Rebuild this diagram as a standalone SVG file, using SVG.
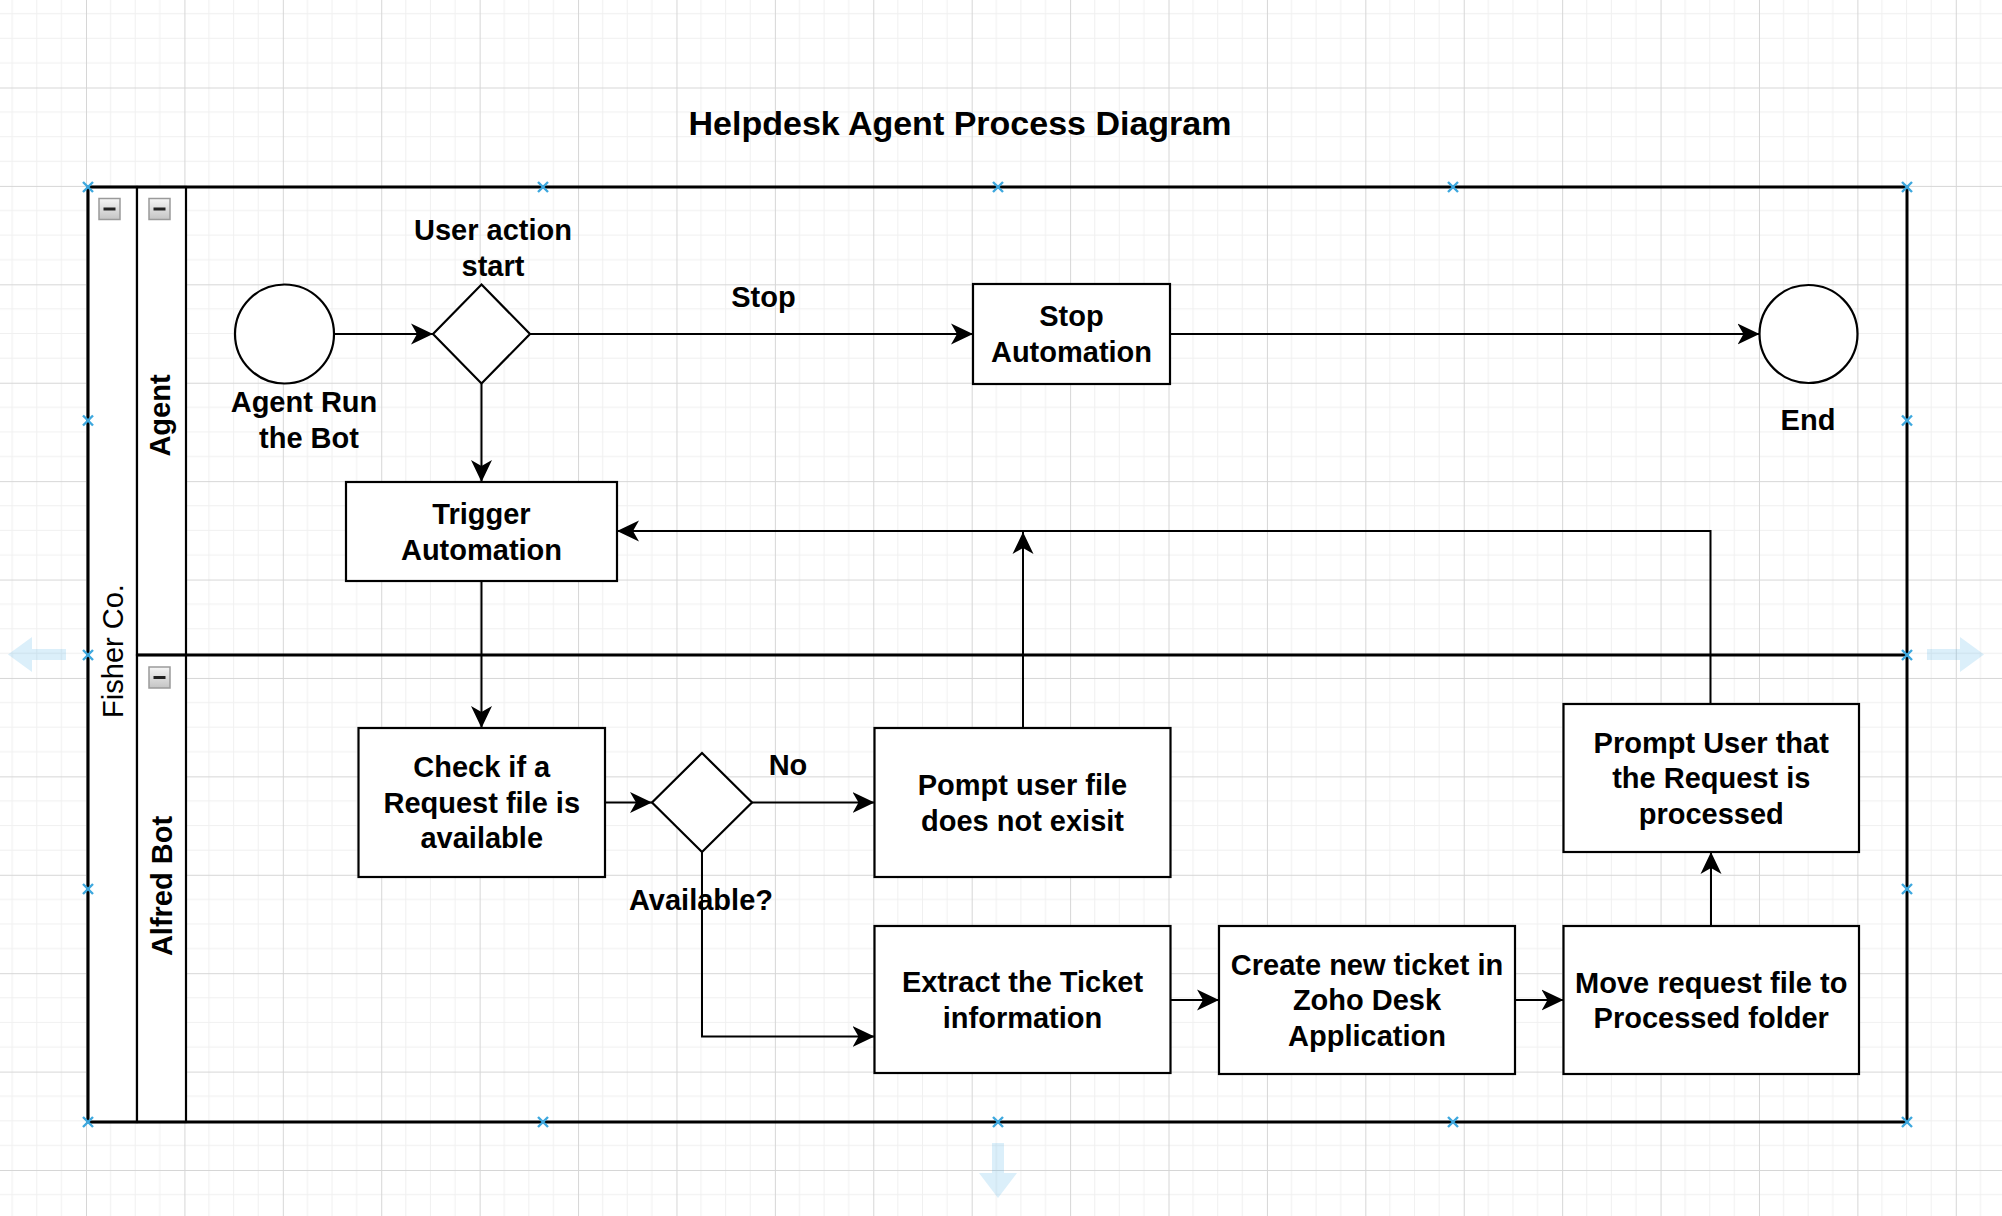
<svg xmlns="http://www.w3.org/2000/svg" width="2002" height="1216" viewBox="0 0 2002 1216">
  <style>
    .t { font-family: "Liberation Sans", Arial, Helvetica, sans-serif; font-weight: bold; font-size: 29px; fill: #000; text-anchor: middle; }
    .reg { font-weight: normal; }
    .title { font-size: 34px; }
    .box { fill: #fff; stroke: #000; stroke-width: 2.2; }
    .hdr { fill: #fff; stroke: #000; stroke-width: 2.2; }
    .edge { fill: none; stroke: #000; stroke-width: 2; }
    .pool { fill: none; stroke: #000; stroke-width: 3; }
    .hx { stroke: #3ea8de; stroke-width: 2.4; fill: none; }
    .uiarrow { fill: #29a3e0; fill-opacity: 0.17; }
  </style>
  <defs>
    <pattern id="grid" patternUnits="userSpaceOnUse" x="86" y="87.5" width="98.41" height="98.41">
      <path d="M24.6,0 V98.41 M49.2,0 V98.41 M73.8,0 V98.41 M0,24.6 H98.41 M0,49.2 H98.41 M0,73.8 H98.41" stroke="#f0f0f0" stroke-width="1" fill="none"/>
      <path d="M0.5,0 V98.41 M0,0.5 H98.41" stroke="#d6d6d6" stroke-width="1" fill="none"/>
    </pattern>
    <marker id="arr" markerUnits="userSpaceOnUse" markerWidth="24" markerHeight="24" refX="22" refY="11" orient="auto">
      <path d="M0,0.5 L22,11 L0,21.5 L6,11 Z" fill="#000"/>
    </marker>
    <linearGradient id="mg" x1="0" y1="0" x2="0" y2="1">
      <stop offset="0" stop-color="#f6f6f6"/>
      <stop offset="1" stop-color="#c4c4c4"/>
    </linearGradient>
    <g id="minus">
      <rect x="0" y="0" width="21" height="21" fill="url(#mg)" stroke="#9a9a9a" stroke-width="1.5"/>
      <rect x="4.5" y="9" width="12" height="3" fill="#222"/>
    </g>
    <path id="hxm" d="M-5,-5 L5,5 M-5,5 L5,-5"/>
  </defs>

  <rect x="0" y="0" width="2002" height="1216" fill="#fff"/>
  <rect x="0" y="0" width="2002" height="1216" fill="url(#grid)"/>

  <text id="title" class="t title" x="960" y="135">Helpdesk Agent Process Diagram</text>

  <g id="pool-fisher">
    <rect class="hdr" x="88" y="187" width="49" height="935"/>
    <rect class="hdr" x="137" y="187" width="49" height="468"/>
    <rect class="hdr" x="137" y="655" width="49" height="467"/>
    <line x1="137" y1="655" x2="1907" y2="655" stroke="#000" stroke-width="3"/>
    <rect class="pool" x="88" y="187" width="1819" height="935"/>
    <use href="#minus" x="99" y="198.5"/>
    <text class="t reg" transform="translate(123,651) rotate(-90)">Fisher Co.</text>
  </g>
  <g id="lane-agent">
    <use href="#minus" x="149" y="198.5"/>
    <text class="t" transform="translate(170,415.5) rotate(-90)">Agent</text>
  </g>
  <g id="lane-alfred">
    <use href="#minus" x="149" y="667"/>
    <text class="t" transform="translate(172,886) rotate(-90)">Alfred Bot</text>
  </g>

  <g id="connectors">
    <path class="edge" d="M334,334 H433" marker-end="url(#arr)"/>
    <path class="edge" d="M530,334 H973" marker-end="url(#arr)"/>
    <path class="edge" d="M1170,334 H1759.5" marker-end="url(#arr)"/>
    <path class="edge" d="M481.5,383.5 V482" marker-end="url(#arr)"/>
    <path class="edge" d="M481.5,581 V728" marker-end="url(#arr)"/>
    <path class="edge" d="M605,802.5 H652" marker-end="url(#arr)"/>
    <path class="edge" d="M752,802.5 H874.5" marker-end="url(#arr)"/>
    <path class="edge" d="M702,852 V1036.5 H874.5" marker-end="url(#arr)"/>
    <path class="edge" d="M1023,728 V532" marker-end="url(#arr)"/>
    <path class="edge" d="M1710.5,704 V531 H617" marker-end="url(#arr)"/>
    <path class="edge" d="M1170.5,1000 H1219" marker-end="url(#arr)"/>
    <path class="edge" d="M1515,1000 H1563.5" marker-end="url(#arr)"/>
    <path class="edge" d="M1711,926 V852" marker-end="url(#arr)"/>
    <text class="t" x="763.5" y="307">Stop</text>
    <text class="t" x="788" y="775">No</text>
  </g>

  <g id="start">
    <circle class="box" cx="284.5" cy="334" r="49.5"/>
    <text class="t" x="304" y="411.5">Agent Run</text>
    <text class="t" x="309" y="448">the Bot</text>
  </g>
  <g id="decision-user-action">
    <polygon class="box" points="481.5,284.5 530,334 481.5,383.5 433,334"/>
    <text class="t" x="493" y="240">User action</text>
    <text class="t" x="493" y="275.5">start</text>
  </g>
  <g id="stop-automation">
    <rect class="box" x="973" y="284" width="197" height="100"/>
    <text class="t" x="1071.5" y="326">Stop</text>
    <text class="t" x="1071.5" y="361.5">Automation</text>
  </g>
  <g id="end">
    <circle class="box" cx="1808.5" cy="334" r="49"/>
    <text class="t" x="1808" y="430">End</text>
  </g>
  <g id="trigger-automation">
    <rect class="box" x="346" y="482" width="271" height="99"/>
    <text class="t" x="481.5" y="524">Trigger</text>
    <text class="t" x="481.5" y="559.5">Automation</text>
  </g>
  <g id="check-request">
    <rect class="box" x="358.5" y="728" width="246.5" height="149"/>
    <text class="t" x="481.75" y="777">Check if a</text>
    <text class="t" x="481.75" y="812.5">Request file is</text>
    <text class="t" x="481.75" y="848">available</text>
  </g>
  <g id="decision-available">
    <polygon class="box" points="702,753 752,802.5 702,852 652,802.5"/>
    <text class="t" x="701" y="910">Available?</text>
  </g>
  <g id="pompt-user">
    <rect class="box" x="874.5" y="728" width="296" height="149"/>
    <text class="t" x="1022.5" y="795">Pompt user file</text>
    <text class="t" x="1022.5" y="830.5">does not exisit</text>
  </g>
  <g id="extract-ticket">
    <rect class="box" x="874.5" y="926" width="296" height="147"/>
    <text class="t" x="1022.5" y="992">Extract the Ticket</text>
    <text class="t" x="1022.5" y="1027.5">information</text>
  </g>
  <g id="create-ticket">
    <rect class="box" x="1219" y="926" width="296" height="148"/>
    <text class="t" x="1367" y="974.5">Create new ticket in</text>
    <text class="t" x="1367" y="1010">Zoho Desk</text>
    <text class="t" x="1367" y="1045.5">Application</text>
  </g>
  <g id="move-request">
    <rect class="box" x="1563.5" y="926" width="295.5" height="148"/>
    <text class="t" x="1711.25" y="992.5">Move request file to</text>
    <text class="t" x="1711.25" y="1028">Processed folder</text>
  </g>
  <g id="prompt-processed">
    <rect class="box" x="1563.5" y="704" width="295.5" height="148"/>
    <text class="t" x="1711.25" y="752.5">Prompt User that</text>
    <text class="t" x="1711.25" y="788">the Request is</text>
    <text class="t" x="1711.25" y="823.5">processed</text>
  </g>

  <g id="selection-handles" class="hx">
    <use href="#hxm" x="88" y="187"/>
    <use href="#hxm" x="543" y="187"/>
    <use href="#hxm" x="998" y="187"/>
    <use href="#hxm" x="1453" y="187"/>
    <use href="#hxm" x="1907" y="187"/>
    <use href="#hxm" x="88" y="420.5"/>
    <use href="#hxm" x="1907" y="420.5"/>
    <use href="#hxm" x="88" y="655"/>
    <use href="#hxm" x="1907" y="655"/>
    <use href="#hxm" x="88" y="889"/>
    <use href="#hxm" x="1907" y="889"/>
    <use href="#hxm" x="88" y="1122"/>
    <use href="#hxm" x="543" y="1122"/>
    <use href="#hxm" x="998" y="1122"/>
    <use href="#hxm" x="1453" y="1122"/>
    <use href="#hxm" x="1907" y="1122"/>
  </g>
  <g id="hover-arrows">
    <polygon class="uiarrow" points="8,654.5 32,637 32,649 66,649 66,660 32,660 32,672"/>
    <polygon class="uiarrow" points="1984,654.5 1960,637 1960,649 1927,649 1927,660 1960,660 1960,672"/>
    <polygon class="uiarrow" points="998,1198 979,1173 992,1173 992,1143 1004,1143 1004,1173 1017,1173"/>
  </g>
</svg>
